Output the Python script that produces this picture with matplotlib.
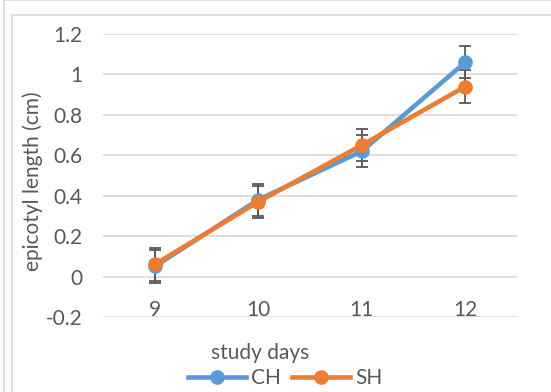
import matplotlib
matplotlib.use('Agg')
import matplotlib.pyplot as plt
from matplotlib.patches import Rectangle
from matplotlib.lines import Line2D

plt.rcParams['font.family'] = ['Lato', 'DejaVu Sans']

# data
days = [9, 10, 11, 12]
ch = [0.05, 0.38, 0.62, 1.06]
sh = [0.06, 0.37, 0.65, 0.94]
ch_err = [0.08, 0.08, 0.08, 0.08]
sh_err = [0.08, 0.08, 0.08, 0.08]
y_ticks = [-0.2, 0, 0.2, 0.4, 0.6, 0.8, 1, 1.2]
y_labels = ['-0.2', '0', '0.2', '0.4', '0.6', '0.8', '1', '1.2']

blue = '#5B9BD5'
orange = '#ED7D31'
text_gray = '#595959'
grid_gray = '#D9D9D9'
fs = 15

fig = plt.figure(figsize=(5.51, 3.92), dpi=100)

# chart frame (Excel style)
fig.patches.append(Rectangle((4 / 551, -0.1), 2, 1.1, transform=fig.transFigure,
                             fill=False, edgecolor='#D9D9D9', linewidth=1.2))
fig.patches.append(Rectangle((12 / 551, -0.1), 2, 1 - 15 / 392 + 0.1, transform=fig.transFigure,
                             fill=False, edgecolor='#D9D9D9', linewidth=1.2))

ax = fig.add_axes([103 / 551, 1 - 317 / 392, (517 - 103) / 551, (317 - 34) / 392])
ax.set_xlim(8.5, 12.5)
ax.set_ylim(-0.2, 1.2)

for v in y_ticks:
    ax.axhline(v, color=grid_gray, linewidth=1.2, zorder=0)

for vals, errs, color in [(ch, ch_err, blue), (sh, sh_err, orange)]:
    ax.errorbar(days, vals, yerr=errs, fmt='none', ecolor=text_gray,
                elinewidth=1.3, capsize=4.3, capthick=1.3, zorder=2)
    ax.plot(days, vals, color=color, linewidth=3.3, marker='o',
            markersize=9.5, zorder=3, solid_capstyle='round')

for s in ax.spines.values():
    s.set_visible(False)
ax.spines['bottom'].set_position(('data', 0))

ax.set_yticks(y_ticks)
ax.set_yticklabels(y_labels)
ax.set_xticks(days)
ax.set_xticklabels([str(d) for d in days])
ax.tick_params(axis='y', length=0, pad=15, labelsize=fs, labelcolor=text_gray)
ax.tick_params(axis='x', length=0, pad=17, labelsize=fs, labelcolor=text_gray)

fig.text(260 / 551, 1 - 353 / 392, 'study days', ha='center', va='center',
         fontsize=fs, color=text_gray)
fig.text(33 / 551, 1 - 181 / 392, 'epicotyl length (cm)', ha='center', va='center',
         rotation=90, fontsize=fs, color=text_gray)

handles = [Line2D([], [], color=blue, linewidth=3.3, marker='o', markersize=9.5),
           Line2D([], [], color=orange, linewidth=3.3, marker='o', markersize=9.5)]
fig.legend(handles, ['CH', 'SH'], loc='center', bbox_to_anchor=(285 / 551, 1 - 378 / 392),
           ncol=2, frameon=False, fontsize=fs, labelcolor=text_gray,
           handlelength=2.8, handletextpad=0.25, columnspacing=0.5, borderpad=0)

fig.savefig('out.png', dpi=100)
